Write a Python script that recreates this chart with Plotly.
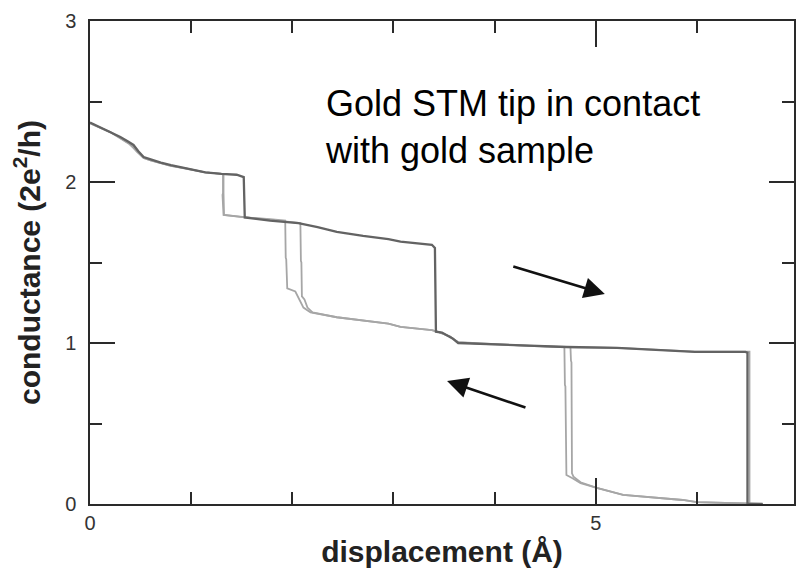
import plotly.graph_objects as go

# Retraction (pull) trace: conductance steps down as the tip is withdrawn
pull_x = [0.00, 0.10, 0.20, 0.30, 0.38, 0.43, 0.48, 0.53, 0.60, 0.70, 0.80, 0.95, 1.14, 1.30, 1.45,
          1.52, 1.53, 1.78, 2.06, 2.25, 2.44, 2.70, 2.95, 3.07, 3.25, 3.38, 3.41, 3.42, 3.48, 3.52,
          3.58, 3.64, 3.85, 4.05, 4.40, 4.71, 5.21, 5.60, 5.98, 6.30, 6.48, 6.50, 6.50, 6.65]
pull_y = [2.37, 2.34, 2.31, 2.28, 2.25, 2.23, 2.19, 2.155, 2.14, 2.12, 2.105, 2.085, 2.06, 2.05, 2.045,
          2.03, 1.78, 1.76, 1.745, 1.72, 1.69, 1.665, 1.645, 1.63, 1.62, 1.61, 1.59, 1.07, 1.065, 1.05,
          1.03, 1.00, 0.995, 0.99, 0.98, 0.975, 0.97, 0.955, 0.945, 0.945, 0.945, 0.94, 0.00, 0.00]

# Second retraction, last plateau only
pull2_x = [4.70, 5.21, 5.98, 6.49, 6.52, 6.52, 6.65]
pull2_y = [0.975, 0.97, 0.947, 0.947, 0.947, 0.00, 0.00]

# Approach (push) traces: conductance jumps back up as the tip returns
push1_x = [6.65, 6.30, 6.00, 5.86, 5.53, 5.27, 5.01, 4.85, 4.77, 4.71, 4.70, 4.695, 4.69, 4.40,
           4.05, 3.85, 3.64, 3.56, 3.45, 3.38, 3.07, 2.95, 2.44, 2.18, 2.11, 2.03, 1.95, 1.94,
           1.935, 1.93, 1.78, 1.53, 1.37, 1.32, 1.31, 1.315, 1.315, 1.14, 0.95, 0.80, 0.60, 0.53,
           0.45, 0.38, 0.20, 0.00]
push1_y = [0.00, 0.004, 0.012, 0.025, 0.043, 0.056, 0.10, 0.13, 0.16, 0.18, 0.73, 0.74, 0.975, 0.98,
           0.99, 0.995, 1.005, 1.04, 1.068, 1.08, 1.10, 1.12, 1.16, 1.19, 1.22, 1.32, 1.34, 1.52,
           1.53, 1.76, 1.77, 1.78, 1.79, 1.795, 1.92, 1.93, 2.05, 2.06, 2.085, 2.10, 2.135, 2.15,
           2.20, 2.24, 2.31, 2.365]

push2_x = [6.65, 6.30, 6.00, 5.86, 5.53, 5.27, 5.01, 4.85, 4.78, 4.765, 4.76, 4.755, 4.75, 4.71,
           4.40, 4.05, 3.85, 3.64, 3.56, 3.45, 3.38, 3.07, 2.95, 2.44, 2.20, 2.15, 2.12, 2.095,
           2.09, 2.085, 2.08, 1.78, 1.53, 1.37, 1.325, 1.32, 1.32, 1.14, 0.95, 0.80, 0.60, 0.53,
           0.46, 0.40, 0.20, 0.00]
push2_y = [0.00, 0.004, 0.012, 0.025, 0.043, 0.056, 0.10, 0.135, 0.17, 0.19, 0.88, 0.89, 0.975, 0.975,
           0.98, 0.99, 0.995, 1.005, 1.04, 1.068, 1.08, 1.10, 1.12, 1.16, 1.19, 1.22, 1.27, 1.29,
           1.50, 1.51, 1.745, 1.765, 1.78, 1.79, 1.795, 1.93, 2.05, 2.06, 2.085, 2.10, 2.135, 2.15,
           2.19, 2.235, 2.31, 2.365]

DARK = "#636363"
LIGHT = "#a6a6a6"
FONT = "Liberation Sans, Arial, Helvetica, sans-serif"

fig = go.Figure()
for xs, ys, col, w in [(push1_x, push1_y, LIGHT, 1.8), (push2_x, push2_y, LIGHT, 1.8),
                       (pull2_x, pull2_y, LIGHT, 1.8), (pull_x, pull_y, DARK, 2.3)]:
    fig.add_trace(go.Scatter(x=xs, y=ys, mode="lines", line=dict(color=col, width=w),
                             hoverinfo="skip", showlegend=False))

axis_common = dict(
    showgrid=False, zeroline=False, showline=True, linecolor="#2a2a2a", linewidth=1.5,
    mirror="ticks", ticks="inside", tickcolor="#2a2a2a", tickwidth=1.5,
    tickfont=dict(family=FONT, size=20, color="#333333"),
)

fig.update_layout(
    width=799, height=579,
    margin=dict(l=90, r=3, t=21, b=75),
    paper_bgcolor="white", plot_bgcolor="white",
    xaxis=dict(range=[0, 6.96], tickvals=[0, 5], ticklen=26,
               minor=dict(dtick=1, tick0=0, ticklen=12, ticks="inside",
                          tickcolor="#2a2a2a", tickwidth=1.5),
               title=dict(text="<b>displacement (Å)</b>", standoff=8,
                          font=dict(family=FONT, size=30, color="#222222")),
               **axis_common),
    yaxis=dict(range=[0, 3], tickvals=[0, 1, 2, 3], ticklen=25, ticklabelstandoff=8,
               minor=dict(dtick=0.5, tick0=0, ticklen=12, ticks="inside",
                          tickcolor="#2a2a2a", tickwidth=1.5),
               title=dict(text="<b>conductance (2e<sup>2</sup>/h)</b>", standoff=16,
                          font=dict(family=FONT, size=30, color="#222222")),
               **axis_common),
    annotations=[
        dict(x=2.30, y=2.63, xref="x", yref="y", xanchor="left", yanchor="top",
             text="Gold STM tip in contact<br>with gold sample", showarrow=False, align="left",
             font=dict(family=FONT, size=36, color="#000000")),
        dict(x=5.09, y=1.304, ax=4.17, ay=1.478, xref="x", yref="y", axref="x", ayref="y",
             text="", showarrow=True, arrowhead=2, arrowsize=1.6, arrowwidth=2.6, arrowcolor="#111111"),
        dict(x=3.53, y=0.764, ax=4.32, ay=0.596, xref="x", yref="y", axref="x", ayref="y",
             text="", showarrow=True, arrowhead=2, arrowsize=1.6, arrowwidth=2.6, arrowcolor="#111111"),
    ],
)

fig.write_html("out.html")
